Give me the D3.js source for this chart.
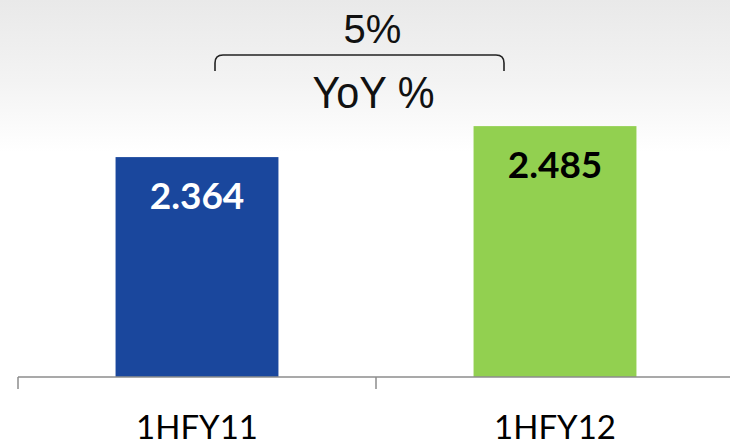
<!DOCTYPE html>
<html>
<head>
<meta charset="utf-8">
<script src="https://cdn.jsdelivr.net/npm/d3@7"></script>
<style>
  html, body { margin: 0; padding: 0; background: #fff; }
  svg { display: block; }
</style>
</head>
<body>
<svg id="chart" width="730" height="447"></svg>
<script>
// ---------- Data ----------
const categories = ["1HFY11", "1HFY12"];
const values = [2.364, 2.485];
const valueLabels = ["2.364", "2.485"];
const barColors = ["#1a479d", "#92d050"];
const labelColors = ["#ffffff", "#000000"];
const growthLabel = "5%";
const growthTitle = "YoY %";

// ---------- Layout ----------
const W = 730, H = 447;
const baseY = 377;
const svg = d3.select("#chart");

// background: faint grey wash at the top fading to white
const defs = svg.append("defs");
const grad = defs.append("linearGradient")
  .attr("id", "bg").attr("x1", 0).attr("y1", 0).attr("x2", 0).attr("y2", 1);
grad.append("stop").attr("offset", "0%").attr("stop-color", "#e9e9e9");
grad.append("stop").attr("offset", "18%").attr("stop-color", "#f3f3f3");
grad.append("stop").attr("offset", "34%").attr("stop-color", "#ffffff");
grad.append("stop").attr("offset", "100%").attr("stop-color", "#ffffff");
svg.append("rect").attr("width", W).attr("height", H).attr("fill", "url(#bg)");

// ---------- Scales ----------
const x = d3.scaleBand().domain(categories).range([18, 734]).padding(0);
const barW = x.bandwidth() * 0.455;
const y = d3.scaleLinear().domain([1.505, 2.6]).range([baseY, baseY - 256 * (2.6 - 1.505)]);
const cx = d => x(d) + x.bandwidth() / 2;

// ---------- Bars ----------
const rows = categories.map((c, i) => ({ cat: c, v: values[i], lab: valueLabels[i], i }));

svg.append("g").selectAll("rect")
  .data(rows).enter().append("rect")
  .attr("x", d => cx(d.cat) - barW / 2)
  .attr("y", d => y(d.v))
  .attr("width", barW)
  .attr("height", d => baseY - y(d.v))
  .attr("fill", d => barColors[d.i]);

svg.append("g").selectAll("text")
  .data(rows).enter().append("text")
  .attr("x", d => cx(d.cat))
  .attr("y", d => y(d.v) + 52)
  .attr("text-anchor", "middle")
  .attr("font-family", "Lato, 'Open Sans', sans-serif")
  .attr("font-weight", "bold")
  .attr("font-size", 37)
  .attr("fill", d => labelColors[d.i])
  .text(d => d.lab);

// ---------- Axis ----------
const axisG = svg.append("g").attr("transform", `translate(0,${baseY})`);
axisG.append("line")
  .attr("x1", 18).attr("x2", W)
  .attr("stroke", "#8c8c8c").attr("stroke-width", 1.5);
axisG.selectAll(".tick")
  .data(categories).enter().append("line")
  .attr("x1", d => x(d)).attr("x2", d => x(d))
  .attr("y1", 0).attr("y2", 12)
  .attr("stroke", "#8c8c8c").attr("stroke-width", 1.5);
axisG.selectAll(".lab")
  .data(categories).enter().append("text")
  .attr("x", d => cx(d))
  .attr("y", 62)
  .attr("text-anchor", "middle")
  .attr("font-family", "Lato, 'Open Sans', sans-serif")
  .attr("font-size", 33)
  .attr("fill", "#000")
  .text(d => d);

// ---------- YoY bracket ----------
const c1 = cx(categories[0]), c2 = cx(categories[1]);
const bL = c1 + 18, bR = c2 - 51, bY = 55, bEnd = 71, r = 8;
const mid = (bL + bR) / 2;
svg.append("path")
  .attr("d", `M${bL},${bEnd} L${bL},${bY + r} Q${bL},${bY} ${bL + r},${bY} L${bR - r},${bY} Q${bR},${bY} ${bR},${bY + r} L${bR},${bEnd}`)
  .attr("fill", "none").attr("stroke", "#222").attr("stroke-width", 1.6);

svg.append("text")
  .attr("x", mid + 13).attr("y", 43)
  .attr("text-anchor", "middle")
  .attr("font-family", "'Liberation Sans', Arial, sans-serif")
  .attr("font-size", 40)
  .attr("fill", "#111")
  .text(growthLabel);

svg.append("text")
  .attr("x", mid + 14).attr("y", 108)
  .attr("text-anchor", "middle")
  .attr("font-family", "'Liberation Sans', Arial, sans-serif")
  .attr("font-size", 44)
  .attr("textLength", 122)
  .attr("lengthAdjust", "spacingAndGlyphs")
  .attr("fill", "#111")
  .text(growthTitle);
</script>
</body>
</html>
